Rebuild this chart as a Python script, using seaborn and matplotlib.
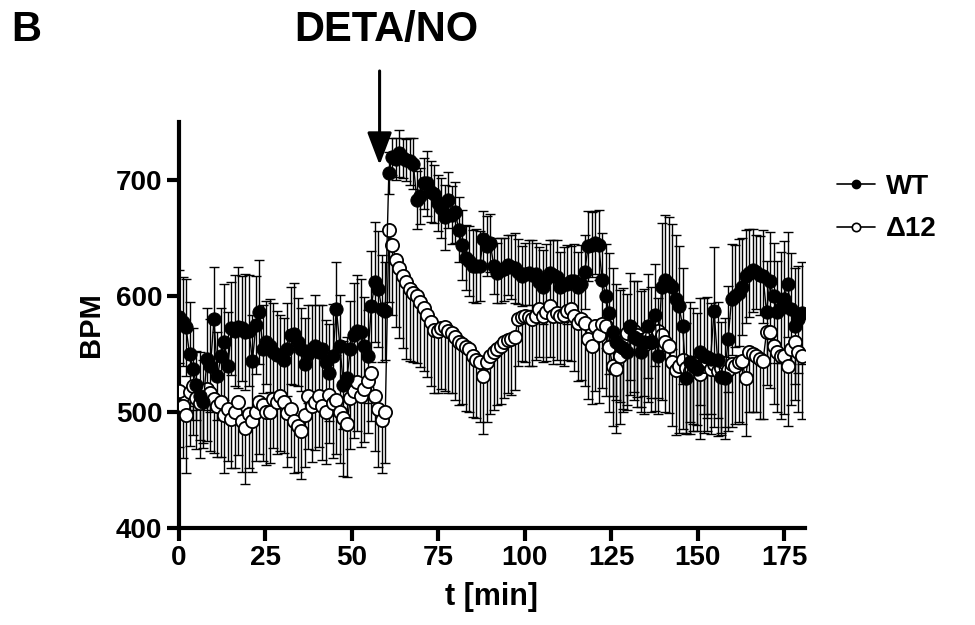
import numpy as np
import pandas as pd
import matplotlib
matplotlib.use("Agg")
import matplotlib.pyplot as plt
from matplotlib.lines import Line2D
import seaborn as sns

# mean heart rate (BPM), one value per sample
wt_mean = [582, 578, 573, 550, 537, 523, 514, 509, 546, 540,
           580, 531, 548, 560, 540, 572, 570, 573, 572, 569,
           570, 544, 575, 586, 554, 560, 557, 552, 549, 549,
           545, 554, 566, 567, 560, 554, 541, 550, 554, 557,
           552, 554, 543, 534, 548, 589, 557, 523, 529, 554,
           566, 570, 569, 557, 548, 591, 612, 606, 589, 587,
           706, 720, 718, 723, 719, 717, 716, 714, 683, 686,
           697, 697, 690, 688, 680, 676, 668, 683, 670, 672,
           657, 644, 633, 630, 626, 626, 626, 649, 643, 646,
           626, 620, 622, 623, 627, 625, 624, 621, 617, 619,
           620, 618, 619, 612, 608, 615, 620, 618, 616, 608,
           610, 610, 613, 613, 608, 610, 621, 643, 644, 646,
           644, 614, 600, 585, 569, 560, 557, 555, 552, 574,
           565, 563, 552, 560, 574, 560, 584, 548, 608, 614,
           610, 608, 597, 591, 574, 529, 543, 540, 537, 552,
           548, 547, 546, 587, 545, 530, 529, 563, 597, 600,
           603, 608, 617, 620, 622, 621, 618, 617, 586, 613,
           600, 586, 590, 597, 610, 589, 574, 580, 585]

wt_sem = [40, 38, 42, 45, 35, 30, 38, 36, 44, 40,
          45, 38, 42, 50, 46, 40, 48, 52, 45, 50,
          48, 40, 42, 45, 38, 36, 40, 42, 38, 35,
          36, 40, 42, 44, 38, 36, 40, 42, 38, 44,
          40, 38, 36, 42, 45, 40, 44, 38, 36, 42,
          45, 48, 46, 42, 40, 48, 52, 50, 46, 42,
          18, 16, 18, 20, 17, 18, 20, 22, 25, 24,
          22, 28, 26, 25, 24, 26, 28, 24, 25, 26,
          28, 30, 28, 30, 31, 32, 30, 24, 26, 25,
          24, 26, 28, 27, 26, 28, 30, 28, 26, 27,
          28, 30, 27, 30, 32, 30, 28, 30, 32, 30,
          32, 34, 30, 32, 30, 34, 32, 30, 28, 27,
          30, 40, 45, 52, 55, 50, 48, 52, 50, 46,
          48, 50, 52, 46, 45, 48, 44, 50, 55, 56,
          58, 54, 56, 52, 50, 48, 52, 50, 48, 46,
          50, 52, 48, 55, 50, 48, 52, 46, 48, 44,
          46, 42, 40, 38, 36, 32, 34, 40, 44, 42,
          46, 44, 48, 50, 45, 48, 50, 46, 44]

d12_mean = [518, 505, 497, 517, 522, 512, 508, 515, 520, 516,
            511, 505, 509, 497, 503, 494, 500, 509, 492, 486,
            498, 492, 500, 509, 506, 500, 500, 511, 509, 514,
            509, 499, 503, 492, 488, 484, 497, 514, 505, 509,
            514, 505, 500, 515, 508, 510, 500, 495, 490, 512,
            518, 526, 514, 520, 527, 534, 514, 503, 493, 500,
            657, 644, 631, 624, 617, 612, 606, 603, 600, 595,
            590, 584, 578, 571, 570, 572, 573, 570, 568, 565,
            560, 559, 556, 554, 548, 545, 543, 531, 543, 548,
            552, 554, 557, 560, 562, 563, 565, 580, 582, 583,
            582, 580, 583, 589, 583, 586, 591, 583, 585, 583,
            584, 587, 589, 583, 577, 580, 577, 563, 557, 574,
            566, 576, 574, 556, 540, 537, 548, 560, 568, 573,
            570, 566, 562, 558, 565, 560, 563, 570, 566, 560,
            557, 543, 536, 540, 545, 538, 535, 542, 539, 533,
            540, 544, 537, 541, 535, 538, 542, 536, 541, 540,
            543, 544, 529, 552, 550, 548, 546, 544, 569, 569,
            557, 552, 548, 548, 540, 554, 560, 552, 548]

d12_sem = [48, 45, 50, 46, 42, 44, 48, 46, 45, 50,
           46, 44, 48, 50, 45, 42, 48, 46, 44, 48,
           46, 44, 42, 45, 48, 46, 44, 42, 45, 48,
           44, 46, 42, 45, 40, 42, 44, 46, 48, 42,
           44, 46, 45, 42, 48, 46, 44, 50, 46, 44,
           40, 42, 44, 46, 45, 42, 48, 50, 46, 44,
           62, 60, 58, 60, 62, 66, 62, 60, 58, 56,
           55, 54, 56, 55, 54, 52, 55, 54, 52, 55,
           54, 52, 55, 54, 52, 50, 52, 50, 52, 50,
           50, 48, 50, 48, 46, 48, 46, 40, 38, 40,
           42, 40, 38, 42, 40, 42, 44, 42, 40, 42,
           44, 42, 45, 48, 50, 52, 55, 52, 50, 56,
           58, 55, 60, 56, 52, 55, 58, 60, 62, 58,
           60, 62, 58, 60, 56, 60, 62, 58, 56, 60,
           58, 55, 56, 58, 60, 56, 54, 58, 55, 56,
           58, 60, 56, 54, 56, 58, 55, 52, 54, 50,
           52, 54, 50, 52, 50, 48, 52, 50, 46, 48,
           50, 52, 54, 50, 52, 48, 50, 52, 54]

# sampling times over the 180 min recording
t = np.linspace(0, 180, len(wt_mean))

df = pd.DataFrame({'t': t, 'wt': wt_mean, 'wt_sem': wt_sem,
                   'd12': d12_mean, 'd12_sem': d12_sem})

sns.set_style("ticks")
plt.rcParams['font.family'] = ['Liberation Sans', 'DejaVu Sans']
plt.rcParams['font.weight'] = 'bold'
for key in ['text.color', 'axes.labelcolor', 'xtick.color', 'ytick.color',
            'axes.edgecolor']:
    plt.rcParams[key] = 'black'

fig = plt.figure(figsize=(9.75, 6.25), dpi=100)
ax = fig.add_axes([0.1836, 0.1552, 0.642, 0.6496])

# error bars: WT both directions, delta12 below only
ax.errorbar(df['t'], df['d12'], yerr=[df['d12_sem'], np.zeros(len(df))],
            fmt='none', ecolor='black', elinewidth=1.0, capsize=3.5,
            capthick=1.0, zorder=2)
ax.errorbar(df['t'], df['wt'], yerr=df['wt_sem'], fmt='none', ecolor='black',
            elinewidth=1.0, capsize=3.5, capthick=1.0, zorder=2)

sns.lineplot(data=df, x='t', y='d12', ax=ax, color='black', linewidth=1.0,
             marker='o', markersize=9.5, markerfacecolor='white',
             markeredgecolor='black', markeredgewidth=1.3, zorder=3)
sns.lineplot(data=df, x='t', y='wt', ax=ax, color='black', linewidth=1.0,
             marker='o', markersize=9.5, markerfacecolor='black',
             markeredgecolor='black', zorder=4)

ax.set_xlim(0, 181)
ax.set_ylim(400, 750)
ax.set_xticks([0, 25, 50, 75, 100, 125, 150, 175])
ax.set_yticks([400, 500, 600, 700])
for side in ['top', 'right']:
    ax.spines[side].set_visible(False)
for side in ['left', 'bottom']:
    ax.spines[side].set_linewidth(3)
ax.tick_params(axis='both', width=3, length=9, labelsize=20, pad=3,
               colors='black')
for lab in ax.get_xticklabels() + ax.get_yticklabels():
    lab.set_fontweight('bold')

ax.set_xlabel('t [min]', fontsize=22, fontweight='bold', labelpad=8)
ax.set_ylabel('BPM', fontsize=21, fontweight='bold', labelpad=8)

# DETA/NO application arrow
ax.annotate('', xy=(58, 713), xytext=(58, 794),
            arrowprops=dict(arrowstyle='-|>,head_length=1.0,head_width=0.38',
                            color='black', lw=2.2, mutation_scale=20,
                            shrinkA=0, shrinkB=0),
            annotation_clip=False)

fig.text(0.012, 0.952, 'B', fontsize=30, fontweight='bold', va='center')
fig.text(0.396, 0.952, 'DETA/NO', fontsize=30, fontweight='bold',
         va='center', ha='center')

handles = [Line2D([], [], color='black', lw=1.2, marker='o', markersize=6,
                  markerfacecolor='black'),
           Line2D([], [], color='black', lw=1.2, marker='o', markersize=6,
                  markerfacecolor='white', markeredgewidth=1.2)]
fig.legend(handles, ['WT', '\u039412'], loc='upper left',
           bbox_to_anchor=(0.833, 0.762), frameon=False, handlelength=1.35,
           handletextpad=0.4, labelspacing=0.6,
           prop={'size': 20, 'weight': 'bold'})

plt.savefig('out.png', dpi=100)
